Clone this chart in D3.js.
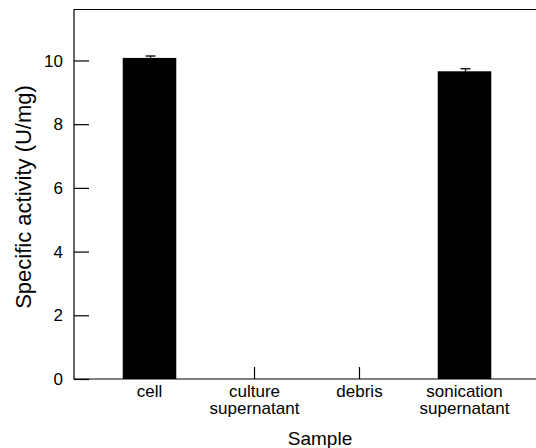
<!DOCTYPE html>
<html>
<head>
<meta charset="utf-8">
<script src="https://cdn.jsdelivr.net/npm/d3@7"></script>
<style>
  html, body { margin: 0; padding: 0; background: #fff; }
  svg { display: block; }
  text { font-family: "Liberation Sans", Arial, sans-serif; fill: #000; }
</style>
</head>
<body>
<svg id="chart" width="536" height="448"></svg>
<script>
const categories = ["cell", "culture\nsupernatant", "debris", "sonication\nsupernatant"];
const values = [10.08, 0, 0, 9.66];
const errors = [0.06, 0, 0, 0.08];
const yTicks = [0, 2, 4, 6, 8, 10];
const yLabel = "Specific activity (U/mg)";
const xLabel = "Sample";

(function () {
const svg = d3.select("#chart");
const W = 536, H = 448;
const pLeft = 74, pTop = 9.5, pBottom = 379, pRight = 540;

const x = d3.scaleBand().domain(categories).range([97, 517]).paddingInner(0.49).paddingOuter(0.245);
const y = d3.scaleLinear().domain([0, 11.6]).range([pBottom, pTop]);

const data = categories.map((c, i) => ({c, v: values[i], e: errors[i]}));

// bars
svg.append("g").selectAll("rect").data(data.filter(d => d.v > 0)).join("rect")
  .attr("x", d => x(d.c)).attr("width", x.bandwidth())
  .attr("y", d => y(d.v)).attr("height", d => y(0) - y(d.v))
  .attr("fill", "#000");

// error bars
const eg = svg.append("g").attr("stroke", "#000").attr("stroke-width", 1.3);
data.filter(d => d.e > 0).forEach(d => {
  const cx = Math.round(x(d.c) + x.bandwidth() / 2) + 0.5;
  eg.append("line").attr("x1", cx).attr("x2", cx).attr("y1", y(d.v - d.e)).attr("y2", y(d.v + d.e));
  eg.append("line").attr("x1", cx - 5).attr("x2", cx + 5).attr("y1", y(d.v + d.e)).attr("y2", y(d.v + d.e));
  eg.append("line").attr("x1", cx - 5).attr("x2", cx + 5).attr("y1", y(d.v - d.e)).attr("y2", y(d.v - d.e));
});

// frame: left, top, bottom
const fg = svg.append("g").attr("stroke", "#000").attr("stroke-width", 1.2).attr("fill", "none");
fg.append("path").attr("d", `M${pRight},${pTop}H${pLeft}V${pBottom}H${pRight}`);

// y axis (ticks inward)
const yAxis = d3.axisRight(y).tickValues(yTicks).tickSize(15).tickFormat("");
const yg = svg.append("g").attr("transform", `translate(${pLeft},0)`).call(yAxis);
yg.select(".domain").remove();
yg.selectAll(".tick line").attr("stroke", "#000").attr("stroke-width", 1.2);

svg.append("g").selectAll("text").data(yTicks).join("text")
  .attr("x", 63).attr("y", d => y(d)).attr("dy", "0.36em")
  .attr("text-anchor", "end").attr("font-size", 17).text(d => d);

// x axis ticks (upward)
const xAxis = d3.axisTop(x).tickSize(12).tickFormat("");
const xg = svg.append("g").attr("transform", `translate(0,${pBottom})`).call(xAxis);
xg.select(".domain").remove();
xg.selectAll(".tick line").attr("stroke", "#000").attr("stroke-width", 1.2);

// category labels
const cl = svg.append("g").selectAll("text").data(categories).join("text")
  .attr("x", d => x(d) + x.bandwidth() / 2).attr("y", 397)
  .attr("text-anchor", "middle").attr("font-size", 17);
cl.each(function(d) {
  const lines = d.split("\n");
  d3.select(this).selectAll("tspan").data(lines).join("tspan")
    .attr("x", x(d) + x.bandwidth() / 2)
    .attr("dy", (l, i) => i === 0 ? 0 : 16.5)
    .text(l => l);
});

// axis titles
svg.append("text").attr("x", (pLeft + W) / 2 + 15).attr("y", 445)
  .attr("text-anchor", "middle").attr("font-size", 19).text(xLabel);
svg.append("text").attr("transform", `translate(31,197) rotate(-90)`)
  .attr("text-anchor", "middle").attr("font-size", 22).text(yLabel);
})();
</script>
</body>
</html>
